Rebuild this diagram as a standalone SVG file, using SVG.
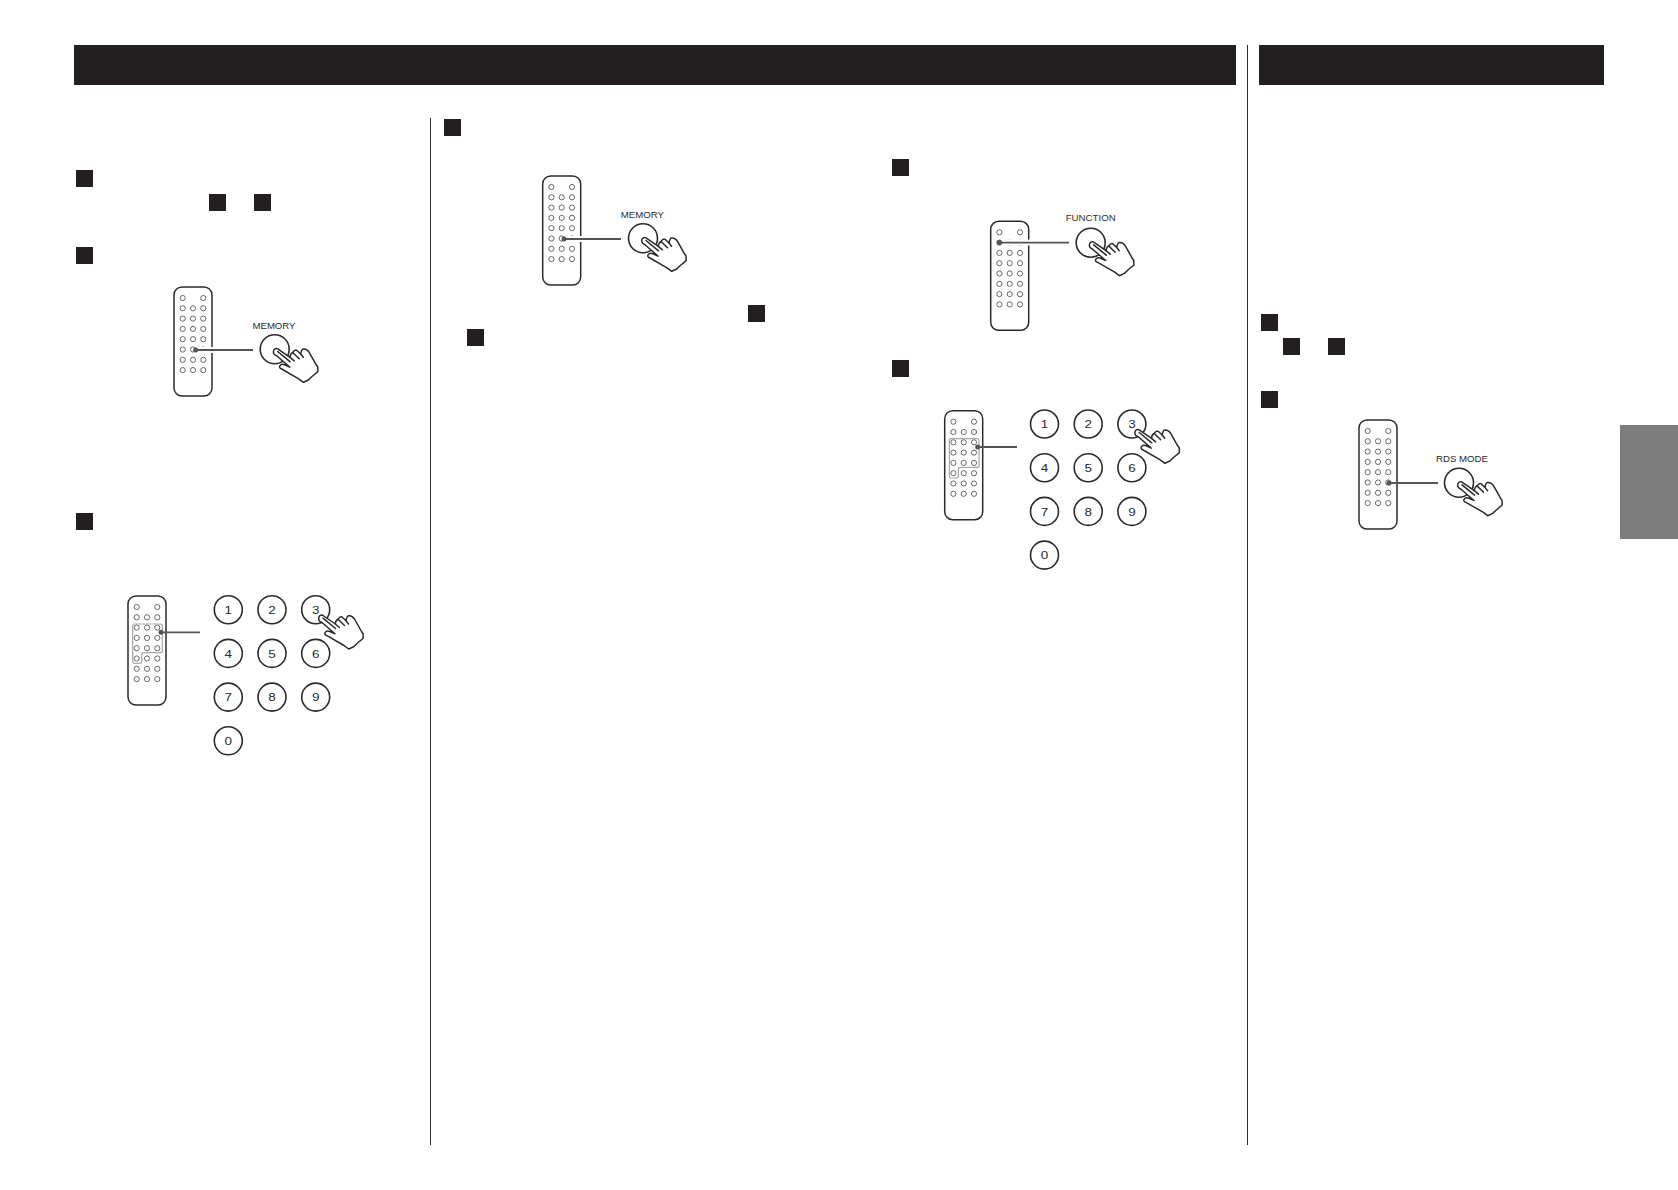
<svg xmlns="http://www.w3.org/2000/svg" width="1678" height="1190" viewBox="0 0 1678 1190">
<style>
.bar{fill:#231f20}
.sq{fill:#231f20}
.rule{stroke:#2b2b2b;stroke-width:1;fill:none}
.body{fill:#fff;stroke:#2b2b2b;stroke-width:1.5}
.b{fill:none;stroke:#3a3a3a;stroke-width:.75}
.key{fill:#fff;stroke:#2b2b2b;stroke-width:1.6}
.hi{fill:none;stroke:#a8a8a8;stroke-width:1.2}
.halo{stroke:#fff;stroke-width:6;fill:none}
.wire{stroke:#555;stroke-width:1.8;fill:none}
.dot{fill:#555}
.hand{fill:#fff;stroke:#2b2b2b;stroke-width:1.5;stroke-linejoin:round;stroke-linecap:round}
.lab{font-family:"Liberation Sans",Arial,sans-serif;font-size:9.5px;fill:#2b2b2b;text-anchor:middle}
.num{font-family:"Liberation Sans",Arial,sans-serif;font-size:11.5px;fill:#2b2b2b;text-anchor:middle;font-weight:400}
</style>
<defs>
<g id="remote">
<rect class="body" x="0" y="0" width="38" height="109" rx="8"/>
<g class="b">
<circle cx="8.7" cy="11" r="2.6"/><circle cx="29.3" cy="11" r="2.6"/>
<circle cx="8.7" cy="21.3" r="2.6"/><circle cx="19" cy="21.3" r="2.6"/><circle cx="29.3" cy="21.3" r="2.6"/>
<circle cx="8.7" cy="31.6" r="2.6"/><circle cx="19" cy="31.6" r="2.6"/><circle cx="29.3" cy="31.6" r="2.6"/>
<circle cx="8.7" cy="41.9" r="2.6"/><circle cx="19" cy="41.9" r="2.6"/><circle cx="29.3" cy="41.9" r="2.6"/>
<circle cx="8.7" cy="52.2" r="2.6"/><circle cx="19" cy="52.2" r="2.6"/><circle cx="29.3" cy="52.2" r="2.6"/>
<circle cx="8.7" cy="62.5" r="2.6"/><circle cx="19" cy="62.5" r="2.6"/><circle cx="29.3" cy="62.5" r="2.6"/>
<circle cx="8.7" cy="72.8" r="2.6"/><circle cx="19" cy="72.8" r="2.6"/><circle cx="29.3" cy="72.8" r="2.6"/>
<circle cx="8.7" cy="83.1" r="2.6"/><circle cx="19" cy="83.1" r="2.6"/><circle cx="29.3" cy="83.1" r="2.6"/>
</g>
</g>
<path id="hi" class="hi" d="M6.7 28H32.3Q34.3 28 34.3 30V54.7Q34.3 56.7 32.3 56.7H15.7Q13.7 56.7 13.7 58.7V65.3Q13.7 67.3 11.7 67.3H6.7Q4.7 67.3 4.7 65.3V30Q4.7 28 6.7 28Z"/>
<g id="hand">
<path class="hand" d="M-1.3 2.3C-1 -.5 1 -1.5 3 -.5L15.3 8C15.5 5.5 16.5 3.8 18 3.2C19.5 1 20.5 .2 22 1L26 4.7C26.5 1.5 27.5 -.5 29 -.3C31 -.5 33 .8 34.5 3L41.5 15.5L43 17.5L43.2 22.3L37 27.5L33.7 30.7L28.7 33L24 29.5L7 19.7C5 19 4.2 17.8 5.2 16.5C6 15 8 14.8 10 15.5L15 17.8L2 6.5C-.5 5.5 -1.5 4 -1.3 2.3Z"/>
<path class="hand" fill="none" d="M3 2.2L15.5 12.5M15.3 8L19.5 11.5M18 3.2L24.5 9.5M26 4.7L28.5 8"/>
</g>
<circle id="k" class="key" r="14"/>
<circle id="btn" class="key" r="14.5"/>
</defs>

<g id="header-left"><rect class="bar" x="74" y="45" width="1162" height="40"/></g>
<g id="header-right"><rect class="bar" x="1259" y="45" width="345" height="40"/></g>
<g id="side-tab"><rect x="1620" y="425" width="58" height="114" fill="#7d7d7d"/></g>
<g id="rules">
<line class="rule" x1="430.5" y1="118" x2="430.5" y2="1145"/>
<line class="rule" x1="1247.5" y1="45" x2="1247.5" y2="1145"/>
</g>
<g id="step-squares">
<rect class="sq" x="76" y="170" width="17" height="17"/>
<rect class="sq" x="209" y="194" width="17" height="17"/>
<rect class="sq" x="254" y="194" width="17" height="17"/>
<rect class="sq" x="76" y="247" width="17" height="17"/>
<rect class="sq" x="76" y="513" width="17" height="17"/>
<rect class="sq" x="444" y="119" width="17" height="17"/>
<rect class="sq" x="748" y="305" width="17" height="17"/>
<rect class="sq" x="467" y="329" width="17" height="17"/>
<rect class="sq" x="892" y="159" width="17" height="17"/>
<rect class="sq" x="892" y="360" width="17" height="17"/>
<rect class="sq" x="1261" y="314" width="17" height="17"/>
<rect class="sq" x="1283" y="338" width="17" height="17"/>
<rect class="sq" x="1328" y="338" width="17" height="17"/>
<rect class="sq" x="1261" y="391" width="17" height="17"/>
</g>

<g id="remote-memory-1"><use href="#remote" x="174" y="287"/></g>
<g id="remote-digits-1"><use href="#remote" x="128" y="596"/><use href="#hi" x="128" y="596"/></g>
<g id="remote-memory-2"><use href="#remote" x="542.7" y="176"/></g>
<g id="remote-function"><use href="#remote" x="990.7" y="221.3"/></g>
<g id="remote-digits-2"><use href="#remote" x="944.7" y="410.7"/><use href="#hi" x="944.7" y="410.7"/></g>
<g id="remote-rds"><use href="#remote" x="1359" y="420"/></g>

<g id="connectors">
<line class="halo" x1="200" y1="350" x2="253" y2="350"/>
<line class="halo" x1="569" y1="239" x2="621" y2="239"/>
<line class="halo" x1="1004" y1="242.6" x2="1069" y2="242.6"/>
<line class="wire" x1="195.7" y1="350" x2="253" y2="350"/><circle class="dot" cx="195.7" cy="350" r="2.5"/>
<line class="wire" x1="161" y1="632.3" x2="200" y2="632.3"/><circle class="dot" cx="161" cy="632.3" r="2.5"/>
<line class="wire" x1="564" y1="239" x2="621" y2="239"/><circle class="dot" cx="564" cy="239" r="2.5"/>
<line class="wire" x1="999.3" y1="242.6" x2="1069" y2="242.6"/><circle class="dot" cx="999.3" cy="242.6" r="2.5"/>
<line class="wire" x1="977.7" y1="447" x2="1017" y2="447"/><circle class="dot" cx="977.7" cy="447" r="2.5"/>
<line class="wire" x1="1389" y1="483" x2="1438" y2="483"/><circle class="dot" cx="1389" cy="483" r="2.5"/>
</g>

<g id="button-memory-1"><text class="lab" x="274" y="329" textLength="43" lengthAdjust="spacingAndGlyphs">MEMORY</text><use href="#btn" x="274.7" y="349.3"/><use href="#hand" x="274.7" y="349.3"/></g>
<g id="button-memory-2"><text class="lab" x="642.3" y="218" textLength="43" lengthAdjust="spacingAndGlyphs">MEMORY</text><use href="#btn" x="643" y="238.3"/><use href="#hand" x="643" y="238.3"/></g>
<g id="button-function"><text class="lab" x="1090.7" y="221" textLength="50" lengthAdjust="spacingAndGlyphs">FUNCTION</text><use href="#btn" x="1090.7" y="242.7"/><use href="#hand" x="1090.7" y="242.7"/></g>
<g id="button-rds"><text class="lab" x="1462" y="461.7" textLength="52" lengthAdjust="spacingAndGlyphs">RDS MODE</text><use href="#btn" x="1459" y="482.7"/><use href="#hand" x="1459" y="482.7"/></g>

<g id="keypad-1">
<use href="#k" x="228.3" y="609.7"/><text class="num" x="228.3" y="613.8" textLength="7.5" lengthAdjust="spacingAndGlyphs">1</text>
<use href="#k" x="272" y="609.7"/><text class="num" x="272" y="613.8" textLength="7.5" lengthAdjust="spacingAndGlyphs">2</text>
<use href="#k" x="315.7" y="609.7"/><text class="num" x="315.7" y="613.8" textLength="7.5" lengthAdjust="spacingAndGlyphs">3</text>
<use href="#k" x="228.3" y="653.4"/><text class="num" x="228.3" y="657.5" textLength="7.5" lengthAdjust="spacingAndGlyphs">4</text>
<use href="#k" x="272" y="653.4"/><text class="num" x="272" y="657.5" textLength="7.5" lengthAdjust="spacingAndGlyphs">5</text>
<use href="#k" x="315.7" y="653.4"/><text class="num" x="315.7" y="657.5" textLength="7.5" lengthAdjust="spacingAndGlyphs">6</text>
<use href="#k" x="228.3" y="697.1"/><text class="num" x="228.3" y="701.2" textLength="7.5" lengthAdjust="spacingAndGlyphs">7</text>
<use href="#k" x="272" y="697.1"/><text class="num" x="272" y="701.2" textLength="7.5" lengthAdjust="spacingAndGlyphs">8</text>
<use href="#k" x="315.7" y="697.1"/><text class="num" x="315.7" y="701.2" textLength="7.5" lengthAdjust="spacingAndGlyphs">9</text>
<use href="#k" x="228.3" y="740.8"/><text class="num" x="228.3" y="744.9" textLength="7.5" lengthAdjust="spacingAndGlyphs">0</text>
<use href="#hand" x="320" y="616"/>
</g>
<g id="keypad-2">
<use href="#k" x="1044.5" y="424"/><text class="num" x="1044.5" y="428.1" textLength="7.5" lengthAdjust="spacingAndGlyphs">1</text>
<use href="#k" x="1088.2" y="424"/><text class="num" x="1088.2" y="428.1" textLength="7.5" lengthAdjust="spacingAndGlyphs">2</text>
<use href="#k" x="1131.9" y="424"/><text class="num" x="1131.9" y="428.1" textLength="7.5" lengthAdjust="spacingAndGlyphs">3</text>
<use href="#k" x="1044.5" y="467.7"/><text class="num" x="1044.5" y="471.8" textLength="7.5" lengthAdjust="spacingAndGlyphs">4</text>
<use href="#k" x="1088.2" y="467.7"/><text class="num" x="1088.2" y="471.8" textLength="7.5" lengthAdjust="spacingAndGlyphs">5</text>
<use href="#k" x="1131.9" y="467.7"/><text class="num" x="1131.9" y="471.8" textLength="7.5" lengthAdjust="spacingAndGlyphs">6</text>
<use href="#k" x="1044.5" y="511.4"/><text class="num" x="1044.5" y="515.5" textLength="7.5" lengthAdjust="spacingAndGlyphs">7</text>
<use href="#k" x="1088.2" y="511.4"/><text class="num" x="1088.2" y="515.5" textLength="7.5" lengthAdjust="spacingAndGlyphs">8</text>
<use href="#k" x="1131.9" y="511.4"/><text class="num" x="1131.9" y="515.5" textLength="7.5" lengthAdjust="spacingAndGlyphs">9</text>
<use href="#k" x="1044.5" y="555.1"/><text class="num" x="1044.5" y="559.2" textLength="7.5" lengthAdjust="spacingAndGlyphs">0</text>
<use href="#hand" x="1136.2" y="430.3"/>
</g>
</svg>
